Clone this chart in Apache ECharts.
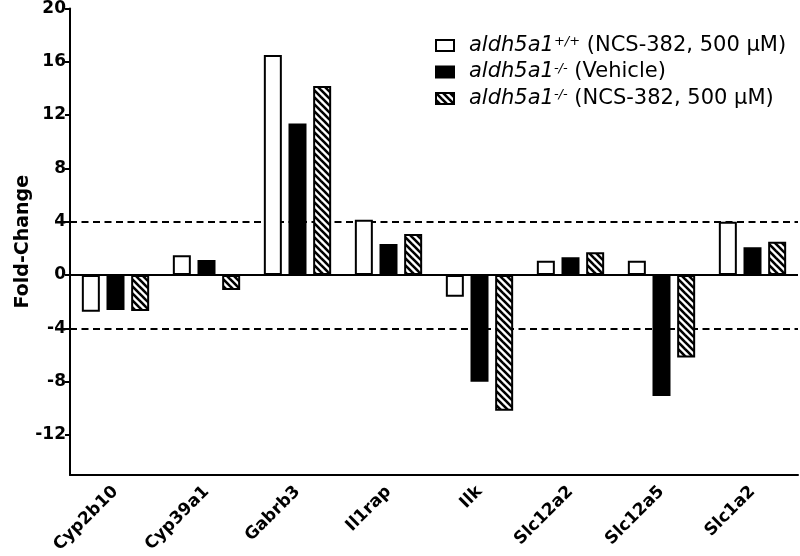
<!DOCTYPE html>
<html>
<head>
<meta charset="utf-8">
<script src="https://cdn.jsdelivr.net/npm/echarts@6/dist/echarts.min.js"></script>
<style>
html,body{margin:0;padding:0;background:#fff;}
#chart{width:800px;height:556px;}
</style>
</head>
<body>
<div id="chart"></div>
<script>
// ---- data ----
var categories = ['Cyp2b10', 'Cyp39a1', 'Gabrb3', 'Il1rap', 'Ilk', 'Slc12a2', 'Slc12a5', 'Slc1a2'];
var seriesNames = ['aldh5a1+/+ (NCS-382, 500 µM)', 'aldh5a1-/- (Vehicle)', 'aldh5a1-/- (NCS-382, 500 µM)'];
var wtNcs   = [-2.75, 1.48, 16.5, 4.15, -1.63, 1.08, 1.08, 4.0];
var koVeh   = [-2.63, 1.13, 11.37, 2.33, -8.0, 1.33, -9.08, 2.08];
var koNcs   = [-2.7, -1.13, 14.18, 3.08, -10.18, 1.7, -6.18, 2.5];
var yTicks  = [-12, -8, -4, 0, 4, 8, 12, 16, 20];
var thresholds = [4, -4];
var yMin = -15, yMax = 20;

// hatch pattern
function makeHatch() {
  var s = 7;
  var c = document.createElement('canvas');
  c.width = s; c.height = s;
  var ctx = c.getContext('2d');
  ctx.fillStyle = '#fff';
  ctx.fillRect(0, 0, s, s);
  ctx.strokeStyle = '#000';
  ctx.lineWidth = 2.6;
  for (var k = -1; k <= 1; k++) {
    ctx.beginPath();
    ctx.moveTo(-2, -2 + k * s);
    ctx.lineTo(s + 2, s + 2 + k * s);
    ctx.stroke();
  }
  return c;
}
var hatch = makeHatch();

var FONT = 'DejaVu Sans';
var legendRich = {
  i: { fontFamily: FONT, fontSize: 21, fontStyle: 'italic', color: '#000', lineHeight: 20 },
  s: { fontFamily: FONT, fontSize: 13, fontStyle: 'italic', color: '#000', verticalAlign: 'top', lineHeight: 12 },
  n: { fontFamily: FONT, fontSize: 21, color: '#000', lineHeight: 20 }
};
function legendFmt(name) {
  var m = name.match(/^(aldh5a1)(\S+)(.*)$/);
  return '{i|' + m[1] + '}{s|' + m[2] + '}{n|' + m[3] + '}';
}

var barCommon = {
  type: 'bar',
  barWidth: 18,
  barGap: '37%',
  z: 2
};

var chart = echarts.init(document.getElementById('chart'), null, { renderer: 'canvas' });
chart.setOption({
  animation: false,
  backgroundColor: '#fff',
  grid: { left: 70, right: 2, top: 8.4, bottom: 81, containLabel: false, outerBoundsMode: 'none' },
  legend: {
    orient: 'vertical',
    left: 430,
    top: 30,
    align: 'left',
    icon: 'rect',
    itemWidth: 18,
    itemHeight: 11,
    itemGap: 5.5,
    data: seriesNames,
    formatter: legendFmt,
    textStyle: { rich: legendRich, padding: [0, 0, 0, 10], lineHeight: 20 }
  },
  xAxis: {
    type: 'category',
    data: categories,
    position: 'bottom',
    axisLine: { onZero: false, lineStyle: { color: '#000', width: 2 } },
    axisTick: { alignWithLabel: true, length: 5, lineStyle: { color: '#000', width: 2 } },
    axisLabel: { rotate: 45, margin: 14, fontFamily: FONT, fontWeight: 'bold', fontSize: 17, color: '#000' },
    splitLine: { show: false }
  },
  yAxis: {
    type: 'value',
    min: yMin,
    max: yMax,
    name: 'Fold-Change',
    nameLocation: 'middle',
    nameRotate: 90,
    nameGap: 37,
    nameMoveOverlap: false,
    nameTextStyle: { fontFamily: FONT, fontWeight: 'bold', fontSize: 19, color: '#000' },
    axisLine: { show: true, lineStyle: { color: '#000', width: 2 } },
    axisTick: { show: true, length: 5, customValues: yTicks, lineStyle: { color: '#000', width: 2 } },
    axisLabel: { customValues: yTicks, margin: 4, fontFamily: FONT, fontWeight: 'bold', fontSize: 17, color: '#000' },
    splitLine: { show: false }
  },
  series: [
    Object.assign({}, barCommon, {
      name: seriesNames[0],
      data: wtNcs,
      itemStyle: { color: '#fff', borderColor: '#000', borderWidth: 2 },
      markLine: {
        silent: true,
        z: 1,
        symbol: 'none',
        label: { show: false },
        data: thresholds.map(function (v) {
          return { yAxis: v, lineStyle: { type: [7, 4.5], color: '#000', width: 2 } };
        }).concat([{ yAxis: 0, lineStyle: { type: 'solid', color: '#000', width: 2 } }])
      }
    }),
    Object.assign({}, barCommon, {
      name: seriesNames[1],
      data: koVeh,
      itemStyle: { color: '#000', borderColor: '#000', borderWidth: 2 }
    }),
    Object.assign({}, barCommon, {
      name: seriesNames[2],
      data: koNcs,
      itemStyle: { color: { image: hatch, repeat: 'repeat' }, borderColor: '#000', borderWidth: 2 }
    })
  ]
});
</script>
</body>
</html>
